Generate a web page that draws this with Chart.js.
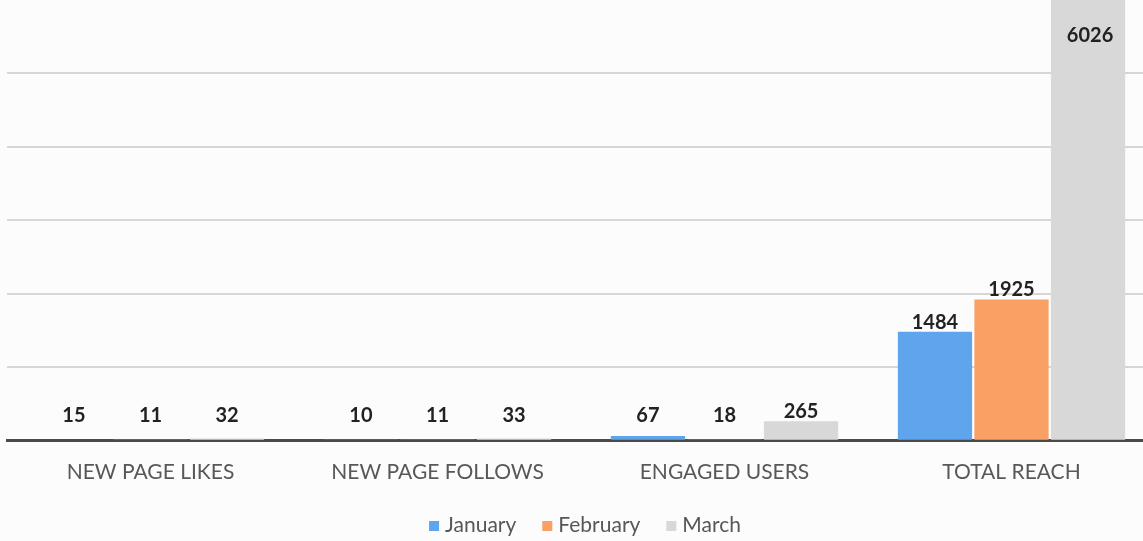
<!DOCTYPE html>
<html>
<head>
<meta charset="utf-8">
<script src="https://cdn.jsdelivr.net/npm/chart.js@4.4.1/dist/chart.umd.min.js"></script>
<style>
  html, body { margin: 0; padding: 0; background: #fcfcfc; overflow: hidden; }
  #wrap { width: 1155px; height: 541px; }
</style>
</head>
<body>
<div id="wrap"><canvas id="c" width="1155" height="541"></canvas></div>
<script>
const categories = ['NEW PAGE LIKES', 'NEW PAGE FOLLOWS', 'ENGAGED USERS', 'TOTAL REACH'];
const seriesNames = ['January', 'February', 'March'];
const january = [15, 10, 67, 1484];
const february = [11, 11, 18, 1925];
const march = [32, 33, 265, 6026];
const yTickStep = 1000;
const yMax = 6000;

const colors = ['#5ea5ee', '#f9a065', '#d8d8d8'];

const valueLabels = {
  id: 'valueLabels',
  afterDatasetsDraw(chart) {
    const ctx = chart.ctx;
    const area = chart.chartArea;
    ctx.save();
    ctx.font = 'bold 20px Lato';
    ctx.fillStyle = '#222222';
    ctx.textAlign = 'center';
    chart.data.datasets.forEach((ds, i) => {
      const meta = chart.getDatasetMeta(i);
      meta.data.forEach((bar, j) => {
        const v = ds.data[j];
        if (bar.y < area.top + 30) {
          ctx.textBaseline = 'top';
          ctx.fillText(String(v), bar.x + 2, area.top + 26);
        } else {
          ctx.textBaseline = 'alphabetic';
          ctx.fillText(String(v), bar.x, Math.min(bar.y - 3, area.bottom - 19));
        }
      });
    });
    ctx.restore();
  }
};

const customLegend = {
  id: 'customLegend',
  afterDraw(chart) {
    const ctx = chart.ctx;
    ctx.save();
    ctx.font = '21px Lato';
    ctx.textBaseline = 'middle';
    const box = 10, gapText = 6, gapItem = 26;
    const items = chart.data.datasets.map(d => ({ label: d.label, color: d.backgroundColor }));
    let total = 0;
    items.forEach((it, i) => {
      it.w = ctx.measureText(it.label).width;
      total += box + gapText + it.w + (i < items.length - 1 ? gapItem : 0);
    });
    let x = 585 - total / 2;
    const y = 525;
    items.forEach(it => {
      ctx.fillStyle = it.color;
      ctx.fillRect(x, y - box / 2 + 1, box, box);
      x += box + gapText;
      ctx.fillStyle = '#575757';
      ctx.textAlign = 'left';
      ctx.fillText(it.label, x, y);
      x += it.w + gapItem;
    });
    ctx.restore();
  }
};

const datasets = [january, february, march].map((arr, i) => ({
  label: seriesNames[i],
  data: arr,
  backgroundColor: colors[i],
  borderWidth: 0,
  categoryPercentage: 0.8,
  barPercentage: 0.97
}));

new Chart(document.getElementById('c'), {
  type: 'bar',
  data: { labels: categories, datasets },
  options: {
    responsive: false,
    animation: false,
    layout: { padding: { left: 7, right: 0, top: 0, bottom: 45 } },
    plugins: { legend: { display: false }, tooltip: { enabled: false } },
    scales: {
      x: {
        grid: { display: false },
        border: { display: true, color: '#4a4a4a', width: 3 },
        ticks: { color: '#585858', font: { family: 'Lato', size: 21 }, padding: 11, maxRotation: 0 }
      },
      y: {
        min: 0,
        max: yMax,
        ticks: { display: false, stepSize: yTickStep },
        border: { display: false },
        grid: {
          drawTicks: false,
          lineWidth: 2,
          color: c => (c.tick && (c.tick.value === 0 || c.tick.value >= yMax)) ? 'rgba(0,0,0,0)' : '#d6d6d6'
        },
        afterFit(scale) { scale.width = 0; }
      }
    }
  },
  plugins: [valueLabels, customLegend]
});
</script>
</body>
</html>
